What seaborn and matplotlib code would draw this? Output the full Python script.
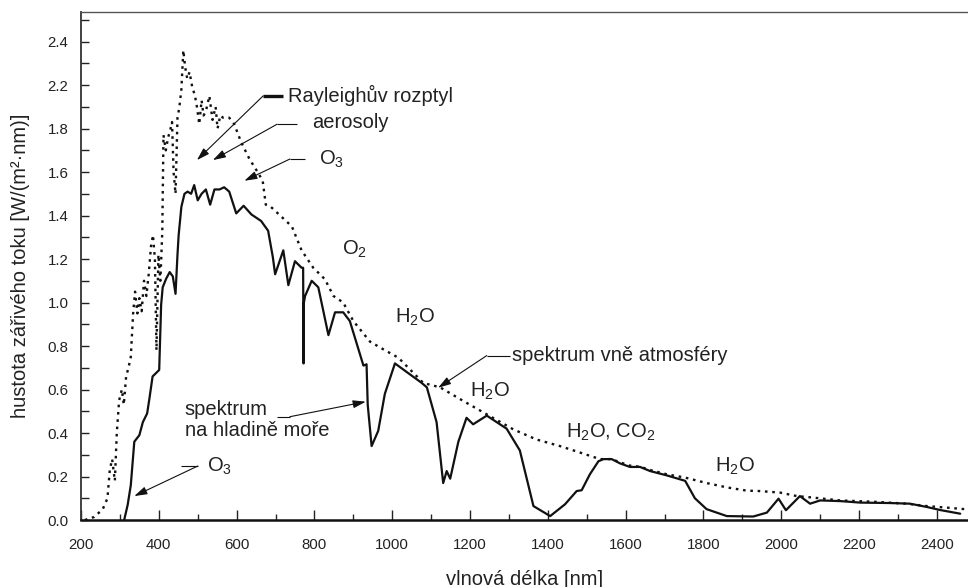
import pandas as pd
import matplotlib.pyplot as plt
import seaborn as sns

# spektrum na hladine more (solid)
sea_nm = [311, 320, 328, 337, 350, 359, 370, 376, 384, 401, 406, 410, 419, 428, 436, 443, 448, 451,
          458, 466, 474, 483, 491, 500, 510, 521, 532, 543, 556, 568, 581, 599, 618, 638, 663, 681,
          693, 699, 720, 733, 750, 767, 771, 772, 773, 776, 793, 810, 836, 853, 874, 891, 926, 934,
          937, 947, 964, 981, 1007, 1076, 1089, 1114, 1131, 1140, 1149, 1170, 1191, 1208, 1243, 1294,
          1328, 1363, 1406, 1444, 1474, 1487, 1508, 1530, 1543, 1564, 1586, 1611, 1637, 1663, 1706,
          1753, 1778, 1808, 1860, 1928, 1963, 1993, 2012, 2048, 2074, 2100, 2151, 2203, 2280, 2331,
          2374, 2408, 2460]
sea_val = [0.00, 0.07, 0.16, 0.36, 0.39, 0.45, 0.49, 0.56, 0.66, 0.69, 0.99, 1.07, 1.11, 1.14, 1.12,
           1.04, 1.22, 1.31, 1.44, 1.50, 1.51, 1.50, 1.54, 1.47, 1.50, 1.52, 1.45, 1.52, 1.52, 1.53,
           1.51, 1.41, 1.445, 1.405, 1.375, 1.33, 1.21, 1.13, 1.24, 1.08, 1.19, 1.16, 1.16, 0.72, 1.00,
           1.03, 1.10, 1.07, 0.85, 0.955, 0.955, 0.915, 0.71, 0.716, 0.53, 0.34, 0.41, 0.58, 0.72,
           0.63, 0.61, 0.45, 0.17, 0.225, 0.19, 0.36, 0.47, 0.44, 0.48, 0.42, 0.32, 0.064, 0.018,
           0.072, 0.133, 0.137, 0.21, 0.27, 0.28, 0.28, 0.26, 0.244, 0.244, 0.225, 0.205, 0.18, 0.10,
           0.05, 0.018, 0.016, 0.034, 0.098, 0.045, 0.11, 0.075, 0.09, 0.087, 0.08, 0.078, 0.075,
           0.06, 0.046, 0.029]

# spektrum vne atmosfery (dotted)
space_nm = [210, 234, 256, 268, 274, 280, 287, 292, 298, 305, 310, 316, 322, 328, 334, 339, 345, 350,
            356, 362, 368, 374, 380, 385, 390, 394, 399, 404, 409, 412, 418, 424, 429, 434, 438, 443,
            448, 453, 458, 463, 468, 473, 479, 487, 492, 498, 504, 510, 515, 521, 530, 538, 546, 551,
            558, 565, 581, 594, 611, 633, 654, 667, 675, 688, 706, 742, 767, 797, 827, 849, 874, 900,
            943, 977, 1016, 1080, 1123, 1183, 1243, 1311, 1371, 1431, 1483, 1534, 1564, 1586, 1611,
            1637, 1663, 1706, 1753, 1808, 1860, 1911, 1945, 1997, 2040, 2082, 2151, 2237, 2323, 2374,
            2425, 2477]
space_val = [0.0, 0.014, 0.05, 0.10, 0.23, 0.28, 0.18, 0.40, 0.55, 0.60, 0.53, 0.66, 0.70, 0.75, 0.95,
             1.05, 0.95, 1.02, 0.96, 1.10, 1.03, 1.13, 1.26, 1.31, 1.20, 0.78, 1.22, 1.10, 1.33, 1.77,
             1.70, 1.76, 1.79, 1.83, 1.60, 1.50, 1.85, 1.90, 1.98, 2.16, 2.08, 2.03, 2.06, 1.98, 1.96,
             1.90, 1.82, 1.93, 1.86, 1.88, 1.95, 1.84, 1.90, 1.80, 1.86, 1.85, 1.85, 1.82, 1.74, 1.66,
             1.60, 1.56, 1.45, 1.44, 1.41, 1.35, 1.24, 1.16, 1.107, 1.03, 1.00, 0.915, 0.82, 0.785,
             0.746, 0.63, 0.61, 0.547, 0.486, 0.417, 0.37, 0.34, 0.31, 0.28, 0.28, 0.265, 0.25, 0.245,
             0.23, 0.21, 0.195, 0.17, 0.15, 0.135, 0.133, 0.126, 0.11, 0.103, 0.09, 0.084, 0.075,
             0.064, 0.057, 0.049]

x_ticks = [200, 400, 600, 800, 1000, 1200, 1400, 1600, 1800, 2000, 2200, 2400]
y_ticks = [0.0, 0.2, 0.4, 0.6, 0.8, 1.0, 1.2, 1.4, 1.6, 1.8, 2.0, 2.2]
y_tick_labels = ['0.0', '0.2', '0.4', '0.6', '0.8', '1.0', '1.2', '1.4', '1.6', '1.8', '2.2', '2.4']

# plain labels: (text, x, y)
labels = [
    ('O$_2$', 871, 1.246),
    ('H$_2$O', 1007, 0.93),
    ('H$_2$O', 1200, 0.59),
    ('H$_2$O, CO$_2$', 1447, 0.405),
    ('H$_2$O', 1830, 0.248),
]
# arrow labels: (text, text_x, text_y, knee_x, line_end_x, line_y, tip_x, tip_y, line_width)
arrows = [
    ('Rayleighův rozptyl', 732, 1.95, 668, 719, 1.95, 498, 1.655, 2.4),
    ('aerosoly', 794, 1.83, 704, 755, 1.82, 539, 1.655, 0.8),
    ('O$_3$', 812, 1.66, 737, 776, 1.66, 620, 1.56, 0.8),
    ('spektrum vně atmosféry', 1308, 0.756, 1243, 1303, 0.756, 1118, 0.608, 0.8),
    ('spektrum\nna hladině moře', 467, 0.46, 737, 704, 0.475, 932, 0.544, 0.8),
    ('O$_3$', 524, 0.245, 500, 457, 0.248, 337, 0.11, 0.8),
]

sns.set_theme(style='ticks', rc={'axes.facecolor': 'white', 'figure.facecolor': 'white'})
plt.rcParams['font.family'] = ['Liberation Sans', 'DejaVu Sans']
plt.rcParams['mathtext.fontset'] = 'custom'
plt.rcParams['mathtext.rm'] = 'Liberation Sans'
plt.rcParams['mathtext.it'] = 'Liberation Sans'

fig = plt.figure(figsize=(9.68, 5.87), dpi=100)
ax = fig.add_axes([81 / 968, 67 / 587, 887 / 968, 508 / 587])

df_sea = pd.DataFrame({'nm': sea_nm, 'val': sea_val})
df_space = pd.DataFrame({'nm': space_nm, 'val': space_val})
sns.lineplot(data=df_space, x='nm', y='val', estimator=None, sort=False, color='#111111',
             linewidth=1.7, linestyle=(0, (1.1, 2.0)), ax=ax)
sns.lineplot(data=df_sea, x='nm', y='val', estimator=None, sort=False, color='#111111',
             linewidth=1.6, ax=ax)

ax.set_xlim(200, 2480)
ax.set_ylim(0, 2.336)
ax.set_xticks(x_ticks)
ax.set_xticks(range(300, 2480, 200), minor=True)
ax.set_yticks(y_ticks)
ax.set_yticklabels(y_tick_labels)
ax.set_yticks([v + 0.1 for v in y_ticks], minor=True)
ax.tick_params(axis='x', which='major', direction='in', length=7, width=1.0, pad=13,
               labelsize=10.8, colors='#222222')
ax.tick_params(axis='x', which='minor', direction='in', length=4, width=1.0)
ax.tick_params(axis='y', which='both', direction='in', length=6, width=1.0, pad=9,
               labelsize=10.8, colors='#222222')

ax.spines['right'].set_visible(False)
ax.spines['top'].set_linewidth(1.0)
ax.spines['top'].set_color('#555555')
ax.spines['left'].set_linewidth(1.3)
ax.spines['left'].set_color('#333333')
ax.spines['bottom'].set_linewidth(1.8)
ax.spines['bottom'].set_color('#111111')

ax.set_xlabel('vlnová délka [nm]', fontsize=14.5, color='#222222')
ax.set_ylabel('hustota zářivého toku [W/(m²·nm)]', fontsize=14.5, color='#222222')
ax.xaxis.set_label_coords(0.5, -0.098)
ax.yaxis.set_label_coords(-0.058, 0.5)

for text, x, y in labels:
    ax.text(x, y, text, fontsize=14.5, color='#222222', ha='left', va='center')

for text, tx, ty, kx, ex, ly, px, py, lw in arrows:
    ax.plot([kx, ex], [ly, ly], color='#111111', linewidth=lw, solid_capstyle='butt')
    ax.annotate('', xy=(px, py), xytext=(kx, ly),
                arrowprops=dict(arrowstyle='-|>,head_length=0.55,head_width=0.17', color='#111111',
                                lw=0.8, shrinkA=0, shrinkB=0, mutation_scale=14))
    ax.text(tx, ty, text, fontsize=14.5, color='#222222', ha='left', va='center', linespacing=1.15)

plt.savefig('out.png', dpi=100)
